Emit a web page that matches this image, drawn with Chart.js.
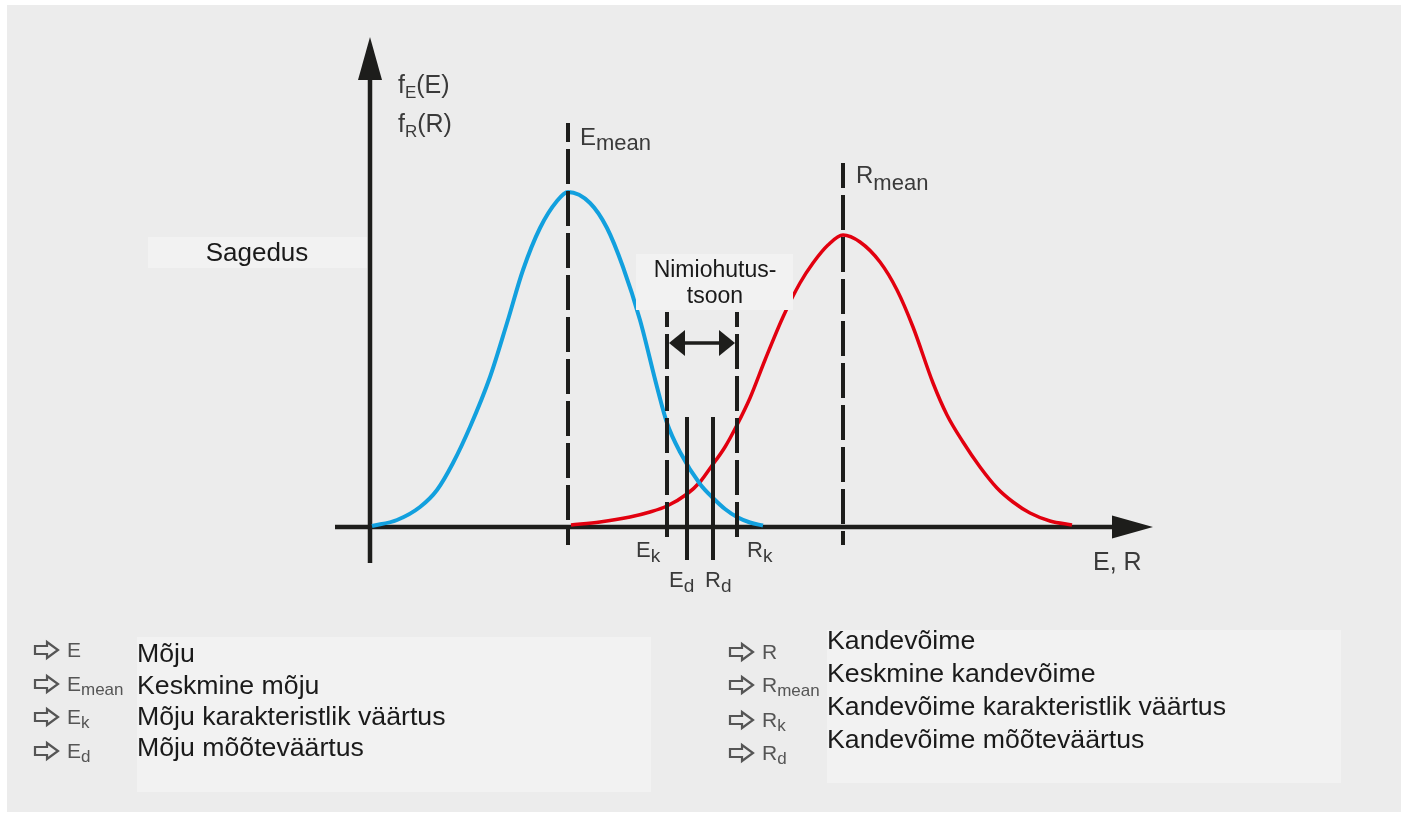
<!DOCTYPE html>
<html lang="et">
<head>
<meta charset="UTF-8">
<title>Koormus ja kandevõime</title>
<script src="https://cdn.jsdelivr.net/npm/chart.js"></script>
<style>
  html, body { margin: 0; padding: 0; background: #fff; }
  #wrap { width: 1407px; height: 816px; }
</style>
</head>
<body>
<div id="wrap"><canvas id="chart" width="1407" height="816"></canvas></div>
<script>
// E - mõju (blue), R - kandevõime (red); x = E, R ; y = sagedus
const eX = [0.2, 2.7, 5.0, 6.7, 8.3, 10.0, 12.0, 13.7, 15.3, 17.0, 18.7, 19.8, 22.0, 23.7, 25.3, 27.0, 28.7, 29.7, 31.0, 33.0, 34.3, 35.5, 36.7, 38.0, 39.3];
const eF = [0.1, 0.7, 2.0, 3.7, 6.4, 10.0, 15.0, 20.4, 25.7, 29.9, 32.6, 33.5, 32.4, 29.9, 26.0, 20.7, 14.0, 10.4, 7.5, 4.3, 2.9, 1.8, 1.0, 0.45, 0.15];

const rX = [20.1, 23.0, 26.0, 28.0, 29.7, 31.7, 33.0, 34.1, 35.5, 36.7, 38.0, 39.5, 41.3, 43.0, 44.3, 45.8, 47.3, 49.0, 51.0, 52.7, 54.3, 56.3, 57.7, 59.3, 61.0, 62.7, 64.3, 66.0, 68.0, 70.2];
const rF = [0.2, 0.5, 1.0, 1.5, 2.1, 3.3, 4.5, 6.0, 8.0, 10.2, 12.9, 16.7, 21.0, 24.4, 26.4, 28.2, 29.2, 28.5, 26.5, 23.7, 20.0, 14.4, 11.2, 8.5, 6.0, 3.9, 2.5, 1.4, 0.6, 0.2];

// marker positions: mean, characteristic (k), design (d)
const meanX = [19.8, 47.3];     // E_mean, R_mean
const meanTop = [40.4, 36.4];
const charX = [29.7, 36.7];     // E_k, R_k
const charTop = 21.5;
const designX = [31.7, 34.3];   // E_d, R_d
const designTop = 11.0;
const zoneY = 18.4;             // Nimiohutustsoon arrow

const legendE = [['E', ''], ['E', 'mean'], ['E', 'k'], ['E', 'd']];
const legendETexts = ['Mõju', 'Keskmine mõju', 'Mõju karakteristlik väärtus', 'Mõju mõõteväärtus'];
const legendR = [['R', ''], ['R', 'mean'], ['R', 'k'], ['R', 'd']];
const legendRTexts = ['Kandevõime', 'Keskmine kandevõime', 'Kandevõime karakteristlik väärtus', 'Kandevõime mõõteväärtus'];

const BLUE = '#12a0de', RED = '#e2000f', INK = '#1d1d1b';
const FONT = '"Liberation Sans", Arial, sans-serif';

function pts(xs, ys) { return xs.map((x, i) => ({ x: x, y: ys[i] })); }
function vline(x, top, bottom) { return [{ x: x, y: top }, { x: x, y: bottom }]; }

// text made of pieces [text, size, dy]
function pieces(ctx, x, y, parts, color) {
  ctx.fillStyle = color;
  ctx.textBaseline = 'alphabetic';
  ctx.textAlign = 'left';
  parts.forEach(p => {
    ctx.font = p[1] + 'px ' + FONT;
    ctx.fillText(p[0], x, y + (p[2] || 0));
    x += ctx.measureText(p[0]).width;
  });
}

function arrowHead(ctx, tx, ty, dx, dy, len, half) {
  const bx = tx - dx * len, by = ty - dy * len;
  ctx.beginPath();
  ctx.moveTo(tx, ty);
  ctx.lineTo(bx - dy * half, by + dx * half);
  ctx.lineTo(bx + dy * half, by - dx * half);
  ctx.closePath();
  ctx.fill();
}

function legendArrow(ctx, x, c) {
  ctx.beginPath();
  ctx.moveTo(x, c - 4);
  ctx.lineTo(x + 12, c - 4);
  ctx.lineTo(x + 12, c - 8);
  ctx.lineTo(x + 23, c);
  ctx.lineTo(x + 12, c + 8);
  ctx.lineTo(x + 12, c + 4);
  ctx.lineTo(x, c + 4);
  ctx.closePath();
  ctx.strokeStyle = '#555';
  ctx.lineWidth = 2.2;
  ctx.lineJoin = 'miter';
  ctx.stroke();
}

const backdrop = {
  id: 'backdrop',
  beforeDraw(chart) {
    const ctx = chart.ctx;
    ctx.save();
    ctx.fillStyle = '#fff';
    ctx.fillRect(0, 0, chart.width, chart.height);
    ctx.fillStyle = '#ececec';
    ctx.fillRect(7, 5, 1394, 807);
    ctx.fillStyle = '#f2f2f2';
    ctx.fillRect(137, 637, 514, 155);
    ctx.fillRect(827, 630, 514, 153);
    ctx.fillRect(148, 237, 219, 31);
    ctx.restore();
  },
  beforeDatasetsDraw(chart) {
    const ctx = chart.ctx, xs = chart.scales.x, ys = chart.scales.y;
    const x0 = xs.getPixelForValue(0), y0 = ys.getPixelForValue(0);
    ctx.save();
    ctx.strokeStyle = INK;
    ctx.fillStyle = INK;
    ctx.lineWidth = 4.5;
    const yTip = ys.getPixelForValue(49.0);
    ctx.beginPath();
    ctx.moveTo(x0, ys.getPixelForValue(-3.6));
    ctx.lineTo(x0, yTip + 30);
    ctx.stroke();
    arrowHead(ctx, x0, yTip, 0, -1, 43, 12);
    const xTip = xs.getPixelForValue(78.3);
    ctx.beginPath();
    ctx.moveTo(xs.getPixelForValue(-3.5), y0);
    ctx.lineTo(xTip - 30, y0);
    ctx.stroke();
    arrowHead(ctx, xTip, y0, 1, 0, 41, 11.5);
    ctx.restore();
  },
  afterDatasetsDraw(chart) {
    const ctx = chart.ctx, xs = chart.scales.x, ys = chart.scales.y;
    ctx.save();
    // safety zone arrow
    const a = xs.getPixelForValue(charX[0]) + 2, b = xs.getPixelForValue(charX[1]) - 2;
    const yz = ys.getPixelForValue(zoneY);
    ctx.strokeStyle = INK; ctx.fillStyle = INK; ctx.lineWidth = 3.5;
    ctx.beginPath(); ctx.moveTo(a + 10, yz); ctx.lineTo(b - 10, yz); ctx.stroke();
    arrowHead(ctx, a, yz, -1, 0, 16, 13);
    arrowHead(ctx, b, yz, 1, 0, 16, 13);

    // Nimiohutustsoon box over curves
    ctx.fillStyle = '#f2f2f2';
    ctx.fillRect(636, 254, 157, 56);
    ctx.fillStyle = '#1a1a1a';
    ctx.font = '23px ' + FONT;
    ctx.textAlign = 'center';
    ctx.textBaseline = 'middle';
    ctx.fillText('Nimiohutus-', 715, 271);
    ctx.fillText('tsoon', 715, 297);
    ctx.font = '26px ' + FONT;
    ctx.fillText('Sagedus', 257, 254);

    // axis texts
    const x0 = xs.getPixelForValue(0);
    const lab = '#3a3a3a';
    pieces(ctx, x0 + 28, 93, [['f', 25], ['E', 17, 5], ['(E)', 25]], lab);
    pieces(ctx, x0 + 28, 132, [['f', 25], ['R', 17, 5], ['(R)', 25]], lab);
    pieces(ctx, xs.getPixelForValue(meanX[0]) + 12, 145, [['E', 24], ['mean', 22, 5]], lab);
    pieces(ctx, xs.getPixelForValue(meanX[1]) + 13, 183, [['R', 24], ['mean', 22, 7]], lab);
    pieces(ctx, xs.getPixelForValue(charX[0]) - 31, 557, [['E', 22], ['k', 19, 5]], lab);
    pieces(ctx, xs.getPixelForValue(charX[1]) + 10, 557, [['R', 22], ['k', 19, 5]], lab);
    pieces(ctx, xs.getPixelForValue(designX[0]) - 18, 587, [['E', 22], ['d', 19, 5]], lab);
    pieces(ctx, xs.getPixelForValue(designX[1]) - 8, 587, [['R', 22], ['d', 19, 5]], lab);
    pieces(ctx, 1093, 570, [['E, R', 25]], lab);

    // legends
    const rowsL = [650, 684, 717, 751], rowsR = [652, 685, 720, 753];
    const textL = [655, 687, 718, 749], textR = [642, 675, 708, 741];
    legendE.forEach((s, i) => {
      legendArrow(ctx, 35, rowsL[i]);
      pieces(ctx, 67, rowsL[i] + 7, [[s[0], 21], [s[1], 17, 4]], '#555');
    });
    legendR.forEach((s, i) => {
      legendArrow(ctx, 730, rowsR[i]);
      pieces(ctx, 762, rowsR[i] + 7, [[s[0], 21], [s[1], 17, 4]], '#555');
    });
    ctx.fillStyle = '#1a1a1a';
    ctx.font = '26.7px ' + FONT;
    ctx.textAlign = 'left';
    ctx.textBaseline = 'middle';
    legendETexts.forEach((t, i) => ctx.fillText(t, 137, textL[i]));
    legendRTexts.forEach((t, i) => ctx.fillText(t, 827, textR[i]));
    ctx.restore();
  }
};

const lineBase = { showLine: true, pointRadius: 0, fill: false };

new Chart(document.getElementById('chart'), {
  type: 'scatter',
  data: {
    datasets: [
      Object.assign({ label: 'E_mean', data: vline(meanX[0], meanTop[0], -1.8), borderColor: INK, borderWidth: 4, borderDash: [35, 7], borderDashOffset: 16 }, lineBase),
      Object.assign({ label: 'R_mean', data: vline(meanX[1], meanTop[1], -1.8), borderColor: INK, borderWidth: 4, borderDash: [35, 7], borderDashOffset: 10 }, lineBase),
      Object.assign({ label: 'E_k', data: vline(charX[0], charTop, -1.6), borderColor: INK, borderWidth: 4, borderDash: [35, 7], borderDashOffset: 20 }, lineBase),
      Object.assign({ label: 'R_k', data: vline(charX[1], charTop, -1.6), borderColor: INK, borderWidth: 4, borderDash: [35, 7], borderDashOffset: 20 }, lineBase),
      Object.assign({ label: 'E_d', data: vline(designX[0], designTop, -3.3), borderColor: INK, borderWidth: 4 }, lineBase),
      Object.assign({ label: 'R_d', data: vline(designX[1], designTop, -3.3), borderColor: INK, borderWidth: 4 }, lineBase),
      Object.assign({ label: 'fE(E)', data: pts(eX, eF), borderColor: BLUE, borderWidth: 4, cubicInterpolationMode: 'monotone' }, lineBase),
      Object.assign({ label: 'fR(R)', data: pts(rX, rF), borderColor: RED, borderWidth: 3.5, cubicInterpolationMode: 'monotone' }, lineBase)
    ]
  },
  options: {
    responsive: false,
    animation: false,
    layout: { padding: 0 },
    plugins: { legend: { display: false }, tooltip: { enabled: false } },
    scales: {
      x: { type: 'linear', min: -37, max: 103.7, display: false },
      y: { type: 'linear', min: -28.9, max: 52.7, display: false }
    }
  },
  plugins: [backdrop]
});
</script>
</body>
</html>
